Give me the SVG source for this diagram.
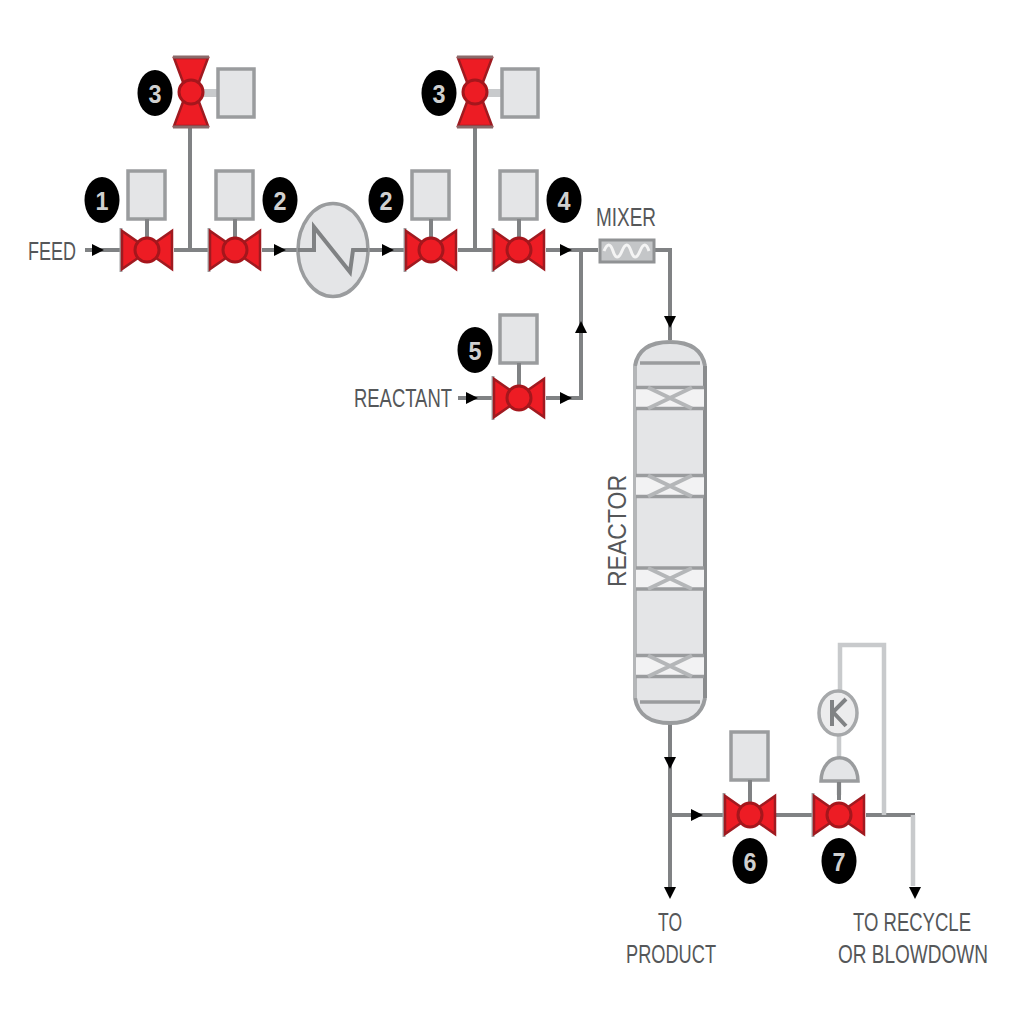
<svg xmlns="http://www.w3.org/2000/svg" width="1024" height="1024" viewBox="0 0 1024 1024">
<style>
.l{fill:none;stroke:#808284;stroke-width:4}
.f{fill:none;stroke:#c8cacc;stroke-width:4.500}
.b{fill:#e4e5e7;stroke:#9a9c9e;stroke-width:3.500}
.t{font-family:"Liberation Sans",Arial,sans-serif;font-size:25px;fill:#555759;text-anchor:middle}
.n{font-family:"Liberation Sans",Arial,sans-serif;font-size:26px;font-weight:bold;fill:#d0d0d0;text-anchor:middle}
.w{fill:none;stroke-width:4}
</style>
<defs>
<g id="v"><path d="M-26-22V22" stroke="#a2a4a6" stroke-width="3" fill="none"/><path d="M-25-19V19L-9 8H9L25 19V-19L9-8H-9Z" fill="#ed1c24" stroke="#a01a20" stroke-width="2.500"/><circle r="12" fill="#ed1c24" stroke="#a5161c" stroke-width="3"/></g>
<g id="bx"><rect x="-19" y="-24" width="37" height="48" class="b"/></g>
<g id="av"><use href="#bx" y="-55"/><path d="M0-31V-13" class="l"/><use href="#v"/></g>
<g id="av2"><use href="#bx" y="-59"/><path d="M0-35V-13" class="l"/><use href="#v"/></g>
<g id="vu"><path d="M10 1H27" fill="none" stroke="#c8cacc" stroke-width="8"/><path d="M-17-34H17L8-10V10L17 34H-17L-8 10V-10Z" fill="#ed1c24" stroke="#a01a20" stroke-width="2.500"/><path d="M-18-35H18M-18 35H18" stroke="#8a6a6a" stroke-width="3" fill="none"/><circle r="12" fill="#ed1c24" stroke="#a5161c" stroke-width="3"/><rect x="27" y="-23" width="36" height="48" class="b"/></g>
<ellipse id="cb" rx="17.500" ry="23" fill="#000"/>
<path id="ar" d="M-6-6 6 0-6 6Z" fill="#000"/>
<g id="bd"><rect x="-34" y="-10.500" width="68" height="21" fill="#f2f2f3"/><path d="M-34-10.500H34M-34 10.500H34" fill="none" stroke="#9a9c9e" stroke-width="3.500"/><path d="M-22-10.500 22 10.500M-22 10.500 22-10.500" fill="none" stroke="#b4b6b8" stroke-width="4"/></g>
</defs>
<g id="connectors">
<path class="l" d="M85 250H120M174 250H208M262 250H298M190 250V125M368 250H404M458 250H492M475 250V125M546 250H598M654 250H670V340M581 250V398H546M458 398H492"/>
<path class="l" d="M670 722V888M670 815H724M776 815H812M866 815H915"/>
<path class="f" d="M913 815V886M884 815V645H840V690M839 736V757M839 782V795"/>
<use href="#ar" x="98" y="250"/><use href="#ar" x="280" y="250"/><use href="#ar" x="388" y="250"/><use href="#ar" x="566" y="250"/><use href="#ar" x="472" y="398"/><use href="#ar" x="566" y="398"/>
<use href="#ar" transform="translate(581 327) rotate(-90)"/><use href="#ar" transform="translate(670 322) rotate(90)"/><use href="#ar" transform="translate(670 763) rotate(90)"/><use href="#ar" transform="translate(670 893) rotate(90)"/><use href="#ar" transform="translate(915 893) rotate(90)"/><use href="#ar" x="697" y="815"/>
</g>
<g id="feed"><text class="t" x="52" y="260" textLength="48" lengthAdjust="spacingAndGlyphs">FEED</text></g>
<g id="valve1"><use href="#av" x="147" y="250"/><use href="#cb" x="102" y="200"/><text class="n" x="102" y="210" textLength="13" lengthAdjust="spacingAndGlyphs">1</text></g>
<g id="valve2a"><use href="#av" x="235" y="250"/><use href="#cb" x="280" y="200"/><text class="n" x="280" y="210" textLength="13" lengthAdjust="spacingAndGlyphs">2</text></g>
<g id="valve3a"><use href="#vu" x="191" y="92"/><use href="#cb" x="155" y="93"/><text class="n" x="155" y="103" textLength="13" lengthAdjust="spacingAndGlyphs">3</text></g>
<g id="heater"><ellipse cx="333" cy="250" rx="35" ry="46.500" class="b"/><path d="M298 250H314V227L350 272 353 250H368" class="l" stroke-width="3"/></g>
<g id="valve2b"><use href="#av" x="431" y="250"/><use href="#cb" x="386" y="200"/><text class="n" x="386" y="210" textLength="13" lengthAdjust="spacingAndGlyphs">2</text></g>
<g id="valve3b"><use href="#vu" x="475" y="92"/><use href="#cb" x="439" y="93"/><text class="n" x="439" y="103" textLength="13" lengthAdjust="spacingAndGlyphs">3</text></g>
<g id="valve4"><use href="#av" x="519" y="250"/><use href="#cb" x="564" y="200"/><text class="n" x="564" y="210" textLength="13" lengthAdjust="spacingAndGlyphs">4</text></g>
<g id="mixer"><text class="t" x="626" y="226" textLength="60" lengthAdjust="spacingAndGlyphs">MIXER</text><rect x="600" y="240" width="54" height="22" fill="#c4c6c8" stroke="#909294" stroke-width="3"/><path d="M604 251q5-12 9 0t9 0 9 0 9 0 9 0" fill="none" stroke="#f4f4f4" stroke-width="3"/></g>
<g id="valve5"><use href="#av2" x="519" y="398"/><use href="#cb" x="475" y="350"/><text class="n" x="475" y="360" textLength="13" lengthAdjust="spacingAndGlyphs">5</text></g>
<g id="reactant"><text class="t" x="403" y="407" textLength="98" lengthAdjust="spacingAndGlyphs">REACTANT</text></g>
<g id="reactor"><rect x="634" y="342" width="72" height="381" rx="34" ry="24" fill="#e4e5e7"/>
<path d="M635 366C638 348 652 342 670 342S702 348 705 366M635 698C638 716 652 723 670 723S702 716 705 698" class="w" stroke="#9a9c9e"/>
<path d="M635 366V698" class="w" stroke="#b4b6b8"/><path d="M705 366V698" class="w" stroke="#8a8c8e"/>
<path d="M640 363H700M640 702H700" stroke="#9a9c9e" stroke-width="3.500" fill="none"/>
<use href="#bd" x="670" y="398"/><use href="#bd" x="670" y="486"/><use href="#bd" x="670" y="578.500"/><use href="#bd" x="670" y="666"/>
<text class="t" transform="translate(626 531) rotate(-90)" textLength="112" lengthAdjust="spacingAndGlyphs">REACTOR</text></g>
<g id="valve6"><use href="#av2" x="750" y="815"/><use href="#cb" x="750" y="861"/><text class="n" x="750" y="871" textLength="13" lengthAdjust="spacingAndGlyphs">6</text></g>
<g id="valve7"><use href="#v" x="839" y="815"/><path d="M821 781C822 750 857 750 858 781Z" class="b"/><path d="M839 782V800" class="l"/><ellipse cx="838" cy="713" rx="19" ry="22" fill="#ececed" stroke="#a6a8aa" stroke-width="3.500"/><path d="M832 700V726M846 699 833 712 846 726" fill="none" stroke="#808284" stroke-width="4"/><use href="#cb" x="839" y="861"/><text class="n" x="839" y="871" textLength="13" lengthAdjust="spacingAndGlyphs">7</text></g>
<g id="labels"><text class="t" x="670" y="931" textLength="24" lengthAdjust="spacingAndGlyphs">TO</text><text class="t" x="671" y="963" textLength="90" lengthAdjust="spacingAndGlyphs">PRODUCT</text><text class="t" x="912" y="931" textLength="118" lengthAdjust="spacingAndGlyphs">TO RECYCLE</text><text class="t" x="913" y="963" textLength="150" lengthAdjust="spacingAndGlyphs">OR BLOWDOWN</text></g>
</svg>
